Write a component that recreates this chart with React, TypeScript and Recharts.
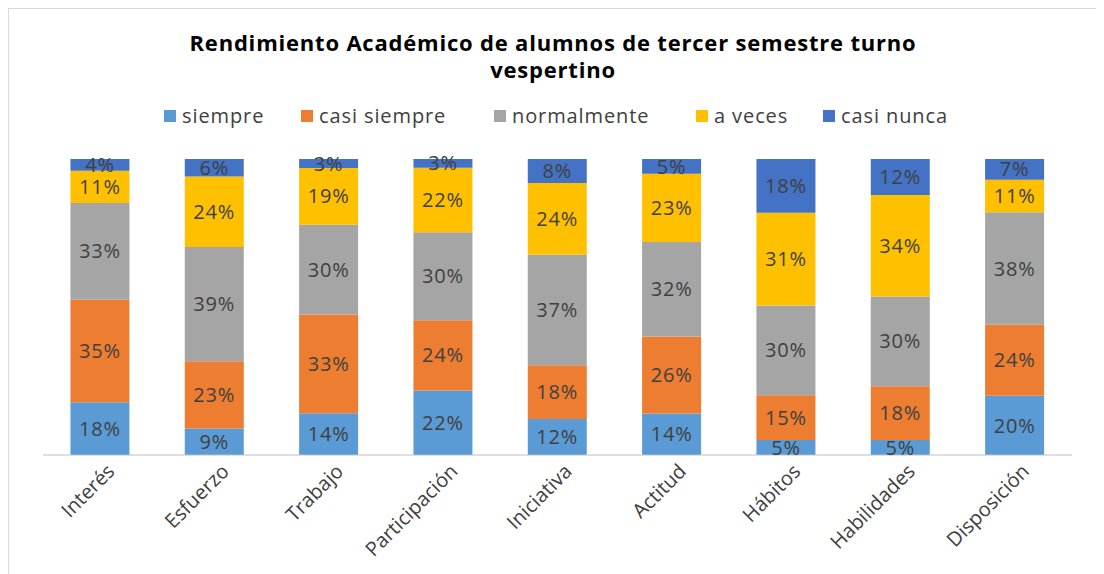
import React from "react";
import { BarChart, Bar, XAxis, YAxis, LabelList } from "recharts";

const categories = ["Interés", "Esfuerzo", "Trabajo", "Participación", "Iniciativa", "Actitud", "Hábitos", "Habilidades", "Disposición"];
const siempre = [18, 9, 14, 22, 12, 14, 5, 5, 20];
const casiSiempre = [35, 23, 33, 24, 18, 26, 15, 18, 24];
const normalmente = [33, 39, 30, 30, 37, 32, 30, 30, 38];
const aVeces = [11, 24, 19, 22, 24, 23, 31, 34, 11];
const casiNunca = [4, 6, 3, 3, 8, 5, 18, 12, 7];

const seriesNames = ["siempre", "casi siempre", "normalmente", "a veces", "casi nunca"];
const seriesColors = ["#5B9BD5", "#ED7D31", "#A5A5A5", "#FFC000", "#4472C4"];
const legendLeft = [155, 292, 485, 687, 814];

const data = categories.map((c, i) => ({
  name: c,
  siempre: siempre[i],
  "casi siempre": casiSiempre[i],
  normalmente: normalmente[i],
  "a veces": aVeces[i],
  "casi nunca": casiNunca[i],
}));

const FONT = "'Open Sans', sans-serif";

const renderTick = (props: any) => {
  const { x, y, payload } = props;
  return (
    <g transform={`translate(${x + 10},${y + 4})`}>
      <text
        x={0}
        y={0}
        dy={8}
        textAnchor="end"
        transform="rotate(-45)"
        fill="#404040"
        fontSize={20}
        fontFamily={FONT}
      >
        {payload.value}
      </text>
    </g>
  );
};

export default function App() {
  return (
    <div
      style={{
        position: "relative",
        width: 1092,
        height: 580,
        border: "1px solid #d9d9d9",
        background: "#fff",
        fontFamily: FONT,
      }}
    >
      <div
        style={{
          position: "absolute",
          top: 20,
          left: -8,
          width: 1104,
          textAlign: "center",
          fontWeight: 700,
          fontSize: 22,
          letterSpacing: 0.8,
          lineHeight: "27px",
          color: "#000",
        }}
      >
        Rendimiento Académico de alumnos de tercer semestre turno
        <br />
        vespertino
      </div>
      {seriesNames.map((s, i) => (
        <div
          key={s}
          style={{
            position: "absolute",
            top: 93,
            left: legendLeft[i],
            display: "flex",
            alignItems: "center",
            fontSize: 20,
            letterSpacing: 0.9,
            color: "#404040",
            whiteSpace: "nowrap",
          }}
        >
          <span
            style={{
              display: "inline-block",
              width: 12,
              height: 12,
              background: seriesColors[i],
              marginRight: 6,
            }}
          />
          {s}
        </div>
      ))}
      <BarChart
        width={1092}
        height={566}
        data={data}
        stackOffset="expand"
        barCategoryGap="24%"
        margin={{ top: 150, right: 29, bottom: 10, left: 34 }}
      >
        <XAxis
          dataKey="name"
          tick={renderTick}
          tickLine={false}
          axisLine={{ stroke: "#bfbfbf" }}
          interval={0}
          height={110}
        />
        <YAxis hide domain={[0, 1]} />
        {seriesNames.map((s, i) => (
          <Bar key={s} dataKey={s} stackId="a" fill={seriesColors[i]} isAnimationActive={false}>
            <LabelList
              dataKey={s}
              position="center"
              formatter={(v: any) => `${v}%`}
              fill="#404040"
              fontSize={20}
              letterSpacing={0.8}
              fontFamily={FONT}
            />
          </Bar>
        ))}
      </BarChart>
    </div>
  );
}
